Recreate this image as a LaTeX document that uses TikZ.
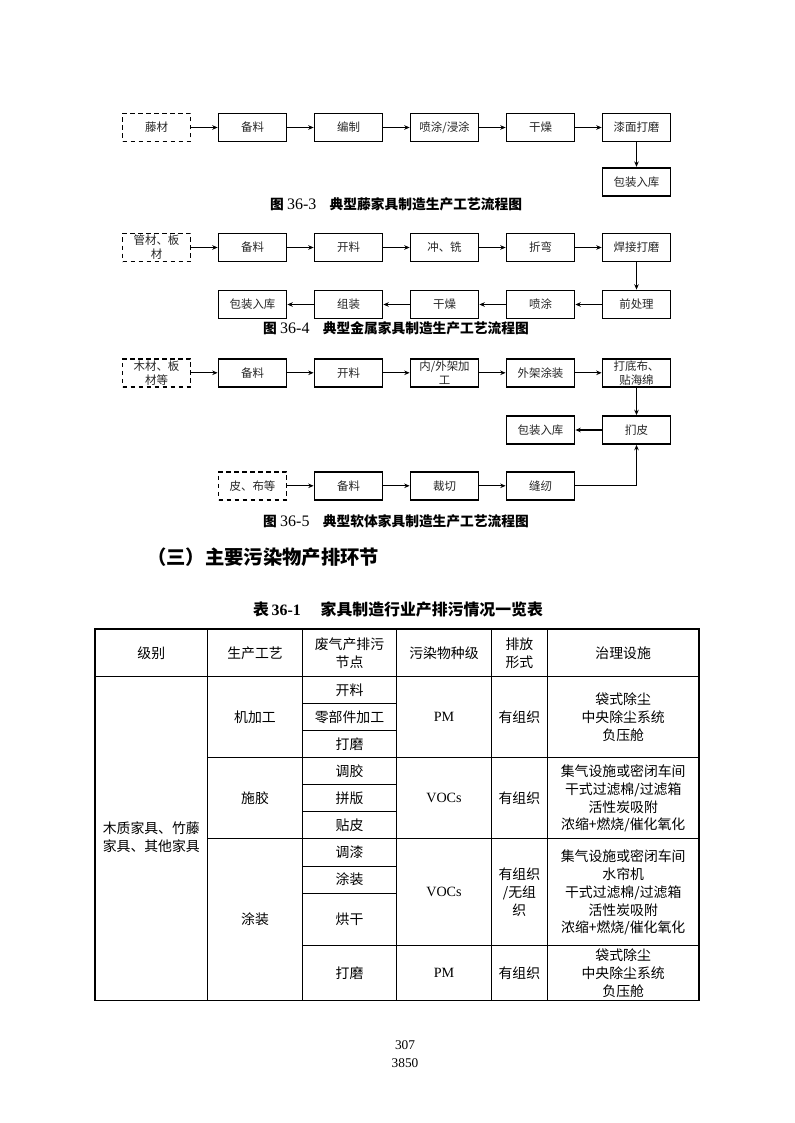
\documentclass[tikz,border=0pt]{standalone}
\usepackage{fontspec}
\setmainfont{Liberation Serif}
\newfontfamily\cjk{Noto Sans CJK SC}
\usetikzlibrary{arrows.meta}
\tikzset{
  proc/.style={draw, line width=1.35pt, minimum width=51pt, minimum height=21pt, inner sep=0pt,
    align=center, font=\cjk\fontsize{8.6}{10.6}\selectfont, text=black!85},
  src/.style={proc, dash pattern=on 3.5pt off 2.5pt},
  arr/.style={line width=0.8pt, -{Stealth[length=4pt,width=3.4pt]}},
  figcap/.style={inner sep=0pt, font=\cjk\bfseries\fontsize{10.3}{12}\selectfont},
  cell/.style={align=center, inner sep=0pt, font=\cjk\fontsize{10.4}{13.4}\selectfont},
  latcell/.style={cell, font=\rmfamily\fontsize{10.6}{13}\selectfont},
  touter/.style={line width=1.1pt},
  tinner/.style={line width=0.75pt},
}
\newcommand{\fignum}[1]{\hspace{2.5pt}{\rmfamily\mdseries\fontsize{12}{12}\selectfont #1}\hspace{10pt}}
\begin{document}
\begin{tikzpicture}[x=0.75pt,y=-0.75pt]
\useasboundingbox (0,0) rectangle (794,1123);
\fill[white] (0,0) rectangle (794,1123);

% ---------- Figure 36-3 ----------
\node[src]  (a0) at (156.5,127.5) {藤材};
\node[proc] (a1) at (252.5,127.5) {备料};
\node[proc] (a2) at (348.5,127.5) {编制};
\node[proc] (a3) at (444.5,127.5) {喷涂/浸涂};
\node[proc] (a4) at (540.5,127.5) {干燥};
\node[proc] (a5) at (636.5,127.5) {漆面打磨};
\node[proc] (a6) at (636.5,181.7) {包装入库};
\foreach \p/\q in {a0/a1,a1/a2,a2/a3,a3/a4,a4/a5,a5/a6} \draw[arr] (\p) -- (\q);
\node[figcap] (cap1) at (396,204) {图\fignum{36-3}典型藤家具制造生产工艺流程图};

% ---------- Figure 36-4 ----------
\node[src]  (b0) at (156.5,247.5) {管材、板\\材};
\node[proc] (b1) at (252.5,247.5) {备料};
\node[proc] (b2) at (348.5,247.5) {开料};
\node[proc] (b3) at (444.5,247.5) {冲、铣};
\node[proc] (b4) at (540.5,247.5) {折弯};
\node[proc] (b5) at (636.5,247.5) {焊接打磨};
\node[proc] (b6) at (636.5,304.5) {前处理};
\node[proc] (b7) at (540.5,304.5) {喷涂};
\node[proc] (b8) at (444.5,304.5) {干燥};
\node[proc] (b9) at (348.5,304.5) {组装};
\node[proc] (b10) at (252.5,304.5) {包装入库};
\foreach \p/\q in {b0/b1,b1/b2,b2/b3,b3/b4,b4/b5,b5/b6,b6/b7,b7/b8,b8/b9,b9/b10} \draw[arr] (\p) -- (\q);
\node[figcap] (cap2) at (396,328) {图\fignum{36-4}典型金属家具制造生产工艺流程图};

% ---------- Figure 36-5 ----------
\node[src]  (c0) at (156.5,372.8) {木材、板\\材等};
\node[proc] (c1) at (252.5,372.8) {备料};
\node[proc] (c2) at (348.5,372.8) {开料};
\node[proc] (c3) at (444.5,372.8) {内/外架加\\工};
\node[proc] (c4) at (540.5,372.8) {外架涂装};
\node[proc] (c5) at (636.5,372.8) {打底布、\\贴海绵};
\node[proc] (c6) at (636.5,430) {扪皮};
\node[proc] (c7) at (540.5,430) {包装入库};
\node[src]  (d0) at (252.5,485.8) {皮、布等};
\node[proc] (d1) at (348.5,485.8) {备料};
\node[proc] (d2) at (444.5,485.8) {裁切};
\node[proc] (d3) at (540.5,485.8) {缝纫};
\foreach \p/\q in {c0/c1,c1/c2,c2/c3,c3/c4,c4/c5,c5/c6,c6/c7,d0/d1,d1/d2,d2/d3} \draw[arr] (\p) -- (\q);
\draw[arr] (d3.east) -| (c6.south);
\node[figcap] (cap3) at (396,521) {图\fignum{36-5}典型软体家具制造生产工艺流程图};

% ---------- Heading ----------
\node[anchor=west, inner sep=0pt, font=\cjk\bfseries\fontsize{14.5}{16}\selectfont] (head) at (147,557) {（三）主要污染物产排环节};

% ---------- Table title ----------
\node[inner sep=0pt, font=\cjk\bfseries\fontsize{11.9}{13}\selectfont] (ttl) at (398,609) {表\hspace{2pt}{\rmfamily\bfseries 36-1}\hspace{15pt}家具制造行业产排污情况一览表};

% ---------- Table lines ----------
\draw[touter] (95,629) rectangle (699,1000.5);
\foreach \x in {207.6,302.5,396.5,491.4,547.4} \draw[tinner] (\x,629) -- (\x,1000.5);
\draw[tinner] (95,676.5) -- (699,676.5);
\draw[tinner] (207.6,757.3) -- (699,757.3);
\draw[tinner] (207.6,838.5) -- (699,838.5);
\draw[tinner] (302.5,945) -- (699,945);
\foreach \y in {703.5,730.6,784.6,811.6,866,893.2} \draw[tinner] (302.5,\y) -- (396.5,\y);

% ---------- Header ----------
\node[cell] (h1) at (151.3,653) {级别};
\node[cell] (h2) at (255,653) {生产工艺};
\node[cell] (h3) at (349.5,653) {废气产排污\\节点};
\node[cell] (h4) at (444,653) {污染物种级};
\node[cell] (h5) at (519.4,653) {排放\\形式};
\node[cell] (h6) at (623.2,653) {治理设施};

% ---------- Body ----------
\node[cell, align=left] (k0) at (151.3,837) {木质家具、竹藤\\家具、其他家具};

\node[cell] (m0) at (255,717) {机加工};
\node[cell] (m1) at (349.5,690) {开料};
\node[cell] (m2) at (349.5,717) {零部件加工};
\node[cell] (m3) at (349.5,744) {打磨};
\node[latcell] (m4) at (444,717) {PM};
\node[cell] (m5) at (519.4,717) {有组织};
\node[cell] (m6) at (623.2,717) {袋式除尘\\中央除尘系统\\负压舱};

\node[cell] (s0) at (255,798) {施胶};
\node[cell] (s1) at (349.5,771) {调胶};
\node[cell] (s2) at (349.5,798) {拼版};
\node[cell] (s3) at (349.5,825) {贴皮};
\node[latcell] (s4) at (444,798) {VOCs};
\node[cell] (s5) at (519.4,798) {有组织};
\node[cell] (s6) at (623.2,798.5) {集气设施或密闭车间\\干式过滤棉/过滤箱\\活性炭吸附\\浓缩+燃烧/催化氧化};

\node[cell] (t0) at (255,919.5) {涂装};
\node[cell] (t1) at (349.5,852.3) {调漆};
\node[cell] (t2) at (349.5,879.6) {涂装};
\node[cell] (t3) at (349.5,919) {烘干};
\node[latcell] (t4) at (444,892) {VOCs};
\node[cell] (t5) at (519.4,892) {有组织\\/无组\\织};
\node[cell] (t6) at (623.2,892.5) {集气设施或密闭车间\\水帘机\\干式过滤棉/过滤箱\\活性炭吸附\\浓缩+燃烧/催化氧化};
\node[cell] (u1) at (349.5,972.8) {打磨};
\node[latcell] (u2) at (444,972.8) {PM};
\node[cell] (u3) at (519.4,972.8) {有组织};
\node[cell] (u4) at (623.2,973.5) {袋式除尘\\中央除尘系统\\负压舱};

% ---------- Page numbers ----------
\node[inner sep=0pt, font=\rmfamily\fontsize{10}{12}\selectfont] (pg1) at (405,1045) {307};
\node[inner sep=0pt, font=\rmfamily\fontsize{10}{12}\selectfont] (pg2) at (405,1063) {3850};
\end{tikzpicture}
\end{document}
